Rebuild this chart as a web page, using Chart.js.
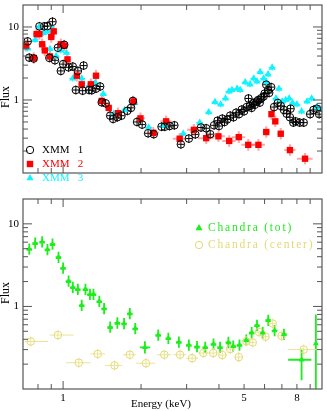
<!DOCTYPE html>
<html>
<head>
<meta charset="utf-8">
<script src="https://cdn.jsdelivr.net/npm/chart.js@4"></script>
<style>
html, body { margin: 0; padding: 0; background: #fff; }
#wrap { position: relative; width: 327px; height: 411px; overflow: hidden; }
canvas { position: absolute; left: 0; }
#top { top: 0; }
#bot { top: 194px; }
</style>
</head>
<body>
<div id="wrap">
  <canvas id="top" width="327" height="196"></canvas>
  <canvas id="bot" width="327" height="217"></canvas>
</div>
<script>
// axes
var eMin = 0.71, eMax = 10;
var fMin = 0.1, fMax = 20;
var eTicks = [0.8, 0.9, 1, 2, 3, 4, 5, 6, 7, 8, 9];
var eLabels = [1, 5, 8];
var fTicks = [0.2, 0.3, 0.4, 0.5, 0.6, 0.7, 0.8, 0.9, 1, 2, 3, 4, 5, 6, 7, 8, 9, 10];
var fLabels = [1, 10];

// XMM 1 (open circles)
var xmm1E = [0.73, 0.74, 0.77, 0.81, 0.845, 0.87, 0.885, 0.91, 0.93, 0.955, 0.98, 1.0, 1.01, 1.05, 1.09, 1.14, 1.2,
  1.12, 1.19, 1.26, 1.29, 1.34, 1.39, 1.41, 1.46, 1.52, 1.56, 1.62, 1.68, 1.77, 1.83, 1.86, 1.93, 2.02, 2.13, 2.24,
  2.40, 2.47, 2.58, 2.69, 2.85, 3.06, 3.24, 3.41, 3.57, 3.70, 3.83, 3.95, 4.0, 4.12, 4.2, 4.3, 4.42, 4.55, 4.66,
  4.78, 4.9, 5.0, 5.12, 5.2, 5.27, 5.35, 5.42, 5.5, 5.6, 5.67, 5.75, 5.83, 5.95, 6.0, 6.09, 6.19, 6.25, 6.36,
  6.53, 6.75, 6.93, 7.13, 7.3, 7.52, 7.56, 7.75, 7.9, 8.2, 8.5, 9.0, 9.27, 9.55, 9.75];
var xmm1F = [6.35, 3.8, 3.7, 10.2, 10.2, 10.3, 3.77, 11.8, 3.5, 5.2, 2.5, 3.1, 5.7, 2.8, 2.87, 2.5, 2.96,
  1.37, 1.34, 1.37, 1.36, 1.43, 1.53, 0.93, 0.9, 0.61, 0.55, 0.58, 0.61, 0.71, 0.78, 0.97, 0.5, 0.46, 0.35, 0.34,
  0.43, 0.43, 0.44, 0.45, 0.247, 0.296, 0.338, 0.42, 0.41, 0.34, 0.45, 0.52, 0.44, 0.555, 0.5, 0.54, 0.61, 0.58, 0.67,
  0.64, 0.74, 0.7, 0.8, 1.05, 0.83, 0.78, 0.91, 0.86, 0.95, 1.0, 0.92, 1.06, 1.12, 1.22, 1.62, 1.37, 1.25, 1.5,
  0.8, 0.91, 0.83, 0.73, 0.65, 0.58, 0.76, 0.49, 0.51, 0.49, 0.49, 0.64, 0.73, 0.76, 0.64];

// XMM 2 (filled squares)
var xmm2E = [0.72, 0.77, 0.79, 0.81, 0.83, 0.85, 0.89, 0.90, 0.92, 0.98, 1.01, 1.04, 1.13, 1.18, 1.28, 1.34, 1.41,
  1.50, 1.63, 1.87, 1.99, 2.23, 2.50, 2.82, 3.20, 3.57, 3.98, 4.38, 4.77, 5.19, 5.68, 6.09, 6.38, 6.6, 6.93, 7.52, 8.6];
var xmm2F = [5.55, 3.77, 8.0, 8.0, 5.8, 4.77, 3.95, 7.3, 8.7, 5.8, 5.55, 3.6, 2.15, 1.64, 1.64, 2.15, 0.97,
  0.78, 0.66, 0.955, 0.56, 0.355, 0.51, 0.295, 0.39, 0.30, 0.318, 0.275, 0.31, 0.243, 0.243, 0.364, 0.64, 0.51, 0.345, 0.206, 0.157];
var xmm2dE = [0.03, 0.03, 0.03, 0.03, 0.03, 0.03, 0.03, 0.03, 0.03, 0.03, 0.03, 0.03, 0.03, 0.03, 0.03, 0.03, 0.03,
  0.03, 0.03, 0.03, 0.04, 0.05, 0.05, 0.06, 0.06, 0.07, 0.06, 0.06, 0.06, 0.06, 0.06, 0.03, 0.02, 0.02, 0.03, 0.05, 0.07];

// XMM 3 (filled triangles)
var xmm3E = [0.73, 0.78, 0.81, 0.84, 0.87, 0.89, 0.91, 0.94, 0.98, 1.03, 1.09, 1.18, 1.26, 1.33, 1.43, 1.57, 1.73,
  1.89, 2.14, 2.43, 2.48, 2.91, 3.37, 3.65, 3.86, 4.06, 4.24, 4.37, 4.49, 4.70, 4.83, 5.05, 5.27, 5.45, 5.61, 5.77,
  5.95, 6.19, 6.1, 6.42, 6.64, 6.82, 7.02, 7.24, 7.47, 7.70, 8.0, 8.34, 8.76, 9.12, 9.55, 9.8];
var xmm3F = [5.08, 6.65, 10, 8.3, 8.7, 5.0, 9.5, 4.0, 4.77, 4.44, 1.97, 1.97, 1.57, 1.72, 1.21, 0.65, 0.73,
  0.91, 0.42, 0.45, 0.46, 0.345, 0.49, 0.68, 0.94, 0.87, 1.05, 1.31, 1.37, 1.43, 1.37, 1.75, 1.64, 1.97, 1.80, 2.42,
  1.97, 2.25, 1.75, 2.78, 1.05, 1.43, 0.955, 1.0, 1.05, 0.91, 0.87, 0.70, 0.955, 1.05, 0.80, 0.76];

// Chandra total (filled triangles)
var chTotE = [0.74, 0.78, 0.83, 0.87, 0.91, 0.96, 1.0, 1.05, 1.09, 1.14, 1.18, 1.22, 1.27, 1.31, 1.38, 1.44, 1.52,
  1.62, 1.72, 1.81, 1.90, 2.07, 2.33, 2.55, 2.80, 3.06, 3.29, 3.54, 3.81, 4.04, 4.35, 4.54, 4.8, 5.1, 5.35, 5.61,
  5.9, 6.2, 6.56, 7.13, 8.34, 9.47];
var chTotF = [4.94, 5.83, 6.05, 4.87, 5.67, 3.94, 2.91, 2.02, 1.70, 1.61, 1.03, 1.61, 1.40, 1.40, 1.15, 0.94, 0.56,
  0.63, 0.62, 0.82, 0.54, 0.32, 0.45, 0.41, 0.37, 0.34, 0.325, 0.32, 0.35, 0.32, 0.366, 0.33, 0.34, 0.39, 0.48, 0.59,
  0.48, 0.68, 0.51, 0.46, 0.226, 0.355];
// wider error boxes of a few bins: [Elo, Ehi, Flo, Fhi]
var chTotWide = { 21: [1.98, 2.17, 0.27, 0.38], 40: [7.4, 9.1, 0.128, 0.308], 41: [9.35, 9.6, 0.05, 0.8] };

// Chandra center (open circles)
var chCenE = [0.75, 0.955, 1.15, 1.36, 1.58, 1.81, 2.09, 2.46, 2.83, 3.15, 3.48, 3.8, 4.12, 4.42, 4.77, 5.1, 5.4,
  5.71, 6.05, 6.45, 6.98, 8.5];
var chCenF = [0.376, 0.45, 0.208, 0.266, 0.193, 0.26, 0.205, 0.26, 0.26, 0.236, 0.273, 0.273, 0.258, 0.305, 0.243,
  0.38, 0.366, 0.49, 0.43, 0.62, 0.44, 0.30];
var chCenElo = [0.71, 0.888, 1.026, 1.275, 1.453, 1.70, 1.91, 2.30, 2.67, 2.99, 3.32, 3.64, 3.97, 4.28, 4.58, 4.95,
  5.24, 5.54, 5.88, 6.27, 6.75, 7.37];
var chCenEhi = [0.875, 1.10, 1.275, 1.453, 1.694, 1.91, 2.27, 2.62, 2.99, 3.32, 3.64, 3.97, 4.28, 4.58, 4.95, 5.24,
  5.54, 5.88, 6.23, 6.64, 7.2, 9.5];

var serif = "'Liberation Serif', 'DejaVu Serif', serif";
Chart.defaults.font.family = serif;
Chart.defaults.color = '#000';

function pts(E, F) {
  return E.map(function(e, i) { return { x: e, y: F[i] }; });
}
function fracErrs(E, F, dE, dF) {
  return E.map(function(e, i) {
    var de = Array.isArray(dE) ? dE[i] : dE;
    return [e * (1 - de), e * (1 + de), F[i] / dF, F[i] * dF];
  });
}

var errorBars = {
  id: 'errorBars',
  beforeDatasetsDraw: function(chart) {
    var ctx = chart.ctx, a = chart.chartArea, x = chart.scales.x, y = chart.scales.y;
    ctx.save();
    ctx.beginPath();
    ctx.rect(a.left, a.top, a.right - a.left, a.bottom - a.top);
    ctx.clip();
    chart.data.datasets.forEach(function(ds) {
      ctx.strokeStyle = ds.errColor;
      ctx.lineWidth = ds.errWidth;
      ds.errs.forEach(function(r, i) {
        var px = x.getPixelForValue(ds.data[i].x), py = y.getPixelForValue(ds.data[i].y);
        ctx.beginPath();
        ctx.moveTo(x.getPixelForValue(r[0]), py);
        ctx.lineTo(x.getPixelForValue(r[1]), py);
        ctx.moveTo(px, y.getPixelForValue(r[2]));
        ctx.lineTo(px, y.getPixelForValue(r[3]));
        ctx.stroke();
      });
    });
    ctx.restore();
  }
};

var frame = {
  id: 'frame',
  afterDraw: function(chart) {
    var ctx = chart.ctx, a = chart.chartArea, x = chart.scales.x, y = chart.scales.y;
    ctx.save();
    ctx.strokeStyle = '#555';
    ctx.lineWidth = 1.2;
    ctx.strokeRect(a.left, a.top, a.right - a.left, a.bottom - a.top);
    ctx.lineWidth = 1;
    ctx.beginPath();
    eTicks.forEach(function(v) {
      var p = x.getPixelForValue(v), L = v === 1 ? 8 : 5;
      ctx.moveTo(p, a.bottom); ctx.lineTo(p, a.bottom - L);
      ctx.moveTo(p, a.top); ctx.lineTo(p, a.top + L);
    });
    fTicks.forEach(function(v) {
      var p = y.getPixelForValue(v), L = (v === 1 || v === 10) ? 9 : 5;
      ctx.moveTo(a.left, p); ctx.lineTo(a.left + L, p);
      ctx.moveTo(a.right, p); ctx.lineTo(a.right - L, p);
    });
    ctx.stroke();
    ctx.restore();
  }
};

function marker(ctx, style, cx, cy, color) {
  ctx.save();
  ctx.fillStyle = color;
  ctx.strokeStyle = color;
  ctx.lineWidth = 1;
  ctx.beginPath();
  if (style === 'circle') {
    ctx.arc(cx, cy, 3.7, 0, Math.PI * 2);
    ctx.stroke();
  } else if (style === 'rect') {
    ctx.fillRect(cx - 3.2, cy - 3.2, 6.4, 6.4);
  } else {
    ctx.moveTo(cx, cy - 4); ctx.lineTo(cx + 3.6, cy + 2.2); ctx.lineTo(cx - 3.6, cy + 2.2);
    ctx.closePath(); ctx.fill();
  }
  ctx.restore();
}

function yTitle(ctx, cy) {
  ctx.save();
  ctx.translate(6, cy);
  ctx.rotate(-Math.PI / 2);
  ctx.font = '12px ' + serif;
  ctx.fillStyle = '#000';
  ctx.textAlign = 'center';
  ctx.textBaseline = 'middle';
  ctx.fillText('Flux', 0, 0);
  ctx.restore();
}

function scalesFor(showX) {
  return {
    x: {
      type: 'logarithmic', min: eMin, max: eMax, display: showX,
      grid: { display: false, drawTicks: false }, border: { display: false },
      afterBuildTicks: function(s) { s.ticks = eTicks.map(function(v) { return { value: v }; }); },
      afterFit: function(s) { s.height = 22; s.paddingLeft = 0; s.paddingRight = 0; },
      ticks: {
        autoSkip: false, maxRotation: 0, padding: 3, font: { size: 11 }, color: '#000',
        callback: function(v) { return eLabels.indexOf(v) >= 0 ? String(v) : ''; }
      }
    },
    y: {
      type: 'logarithmic', min: fMin, max: fMax,
      grid: { display: false, drawTicks: false }, border: { display: false },
      afterBuildTicks: function(s) { s.ticks = fTicks.map(function(v) { return { value: v }; }); },
      afterFit: function(s) { s.width = 23; s.paddingTop = 0; s.paddingBottom = 0; },
      ticks: {
        autoSkip: false, padding: 4, font: { size: 11 }, color: '#000',
        callback: function(v) { return fLabels.indexOf(v) >= 0 ? String(v) : ''; }
      }
    }
  };
}

function baseOptions(showX, pad) {
  return {
    responsive: false,
    animation: false,
    layout: { padding: pad },
    plugins: { legend: { display: false }, tooltip: { enabled: false } },
    scales: scalesFor(showX)
  };
}

new Chart(document.getElementById('top'), {
  type: 'scatter',
  data: {
    datasets: [
      {
        label: 'XMM 1', data: pts(xmm1E, xmm1F), pointStyle: 'circle', pointRadius: 3.8,
        backgroundColor: 'rgba(0,0,0,0)', borderColor: '#000', borderWidth: 1,
        errs: fracErrs(xmm1E, xmm1F, 0.03, 1.15), errColor: '#000', errWidth: 1
      },
      {
        label: 'XMM 2', data: pts(xmm2E, xmm2F), pointStyle: 'rect', pointRadius: 4.5,
        backgroundColor: '#ff0000', borderColor: '#ff0000', borderWidth: 0,
        errs: fracErrs(xmm2E, xmm2F, xmm2dE, 1.2), errColor: 'rgba(255,60,60,0.45)', errWidth: 2
      },
      {
        label: 'XMM 3', data: pts(xmm3E, xmm3F), pointStyle: 'triangle', pointRadius: 4.2,
        backgroundColor: '#12f2ff', borderColor: '#12f2ff', borderWidth: 0,
        errs: fracErrs(xmm3E, xmm3F, 0.03, 1.1), errColor: '#12f2ff', errWidth: 1
      }
    ]
  },
  options: baseOptions(false, { top: 1, bottom: 1, left: 0, right: 1 }),
  plugins: [errorBars, frame, {
    id: 'extrasTop',
    afterDraw: function(chart) {
      var ctx = chart.ctx;
      yTitle(ctx, 97);
      ctx.save();
      ctx.font = '11px ' + serif;
      ctx.textBaseline = 'middle';
      var rows = [['circle', '#000', 'XMM   1', 150], ['rect', '#ff0000', 'XMM   2', 164], ['triangle', '#12f2ff', 'XMM   3', 178]];
      rows.forEach(function(r) {
        marker(ctx, r[0], 30, r[3], r[1]);
        ctx.fillStyle = r[1];
        ctx.fillText(r[2], 42, r[3]);
      });
      ctx.restore();
    }
  }]
});

var totErrs = fracErrs(chTotE, chTotF, 0.025, 1.17).map(function(r, i) { return chTotWide[i] || r; });
var cenErrs = chCenE.map(function(e, i) { return [chCenElo[i], chCenEhi[i], chCenF[i] / 1.15, chCenF[i] * 1.15]; });

new Chart(document.getElementById('bot'), {
  type: 'scatter',
  data: {
    datasets: [
      {
        label: 'Chandra (tot)', data: pts(chTotE, chTotF), pointStyle: 'triangle', pointRadius: 3.4,
        backgroundColor: '#1cee1c', borderColor: '#1cee1c', borderWidth: 0,
        errs: totErrs, errColor: '#1cee1c', errWidth: 1.8
      },
      {
        label: 'Chandra (center)', data: pts(chCenE, chCenF), pointStyle: 'circle', pointRadius: 3.8,
        backgroundColor: 'rgba(0,0,0,0)', borderColor: '#e2da74', borderWidth: 1,
        errs: cenErrs, errColor: '#ebe496', errWidth: 1
      }
    ]
  },
  options: baseOptions(true, { top: 1, bottom: 0, left: 0, right: 1 }),
  plugins: [errorBars, frame, {
    id: 'extrasBot',
    afterDraw: function(chart) {
      var ctx = chart.ctx;
      yTitle(ctx, 99);
      ctx.save();
      ctx.font = '11px ' + serif;
      ctx.fillStyle = '#000';
      ctx.textAlign = 'center';
      ctx.textBaseline = 'middle';
      ctx.fillText('Energy (keV)', 161, 210);
      ctx.textAlign = 'left';
      ctx.font = '11.5px ' + serif;
      ctx.letterSpacing = '1.8px';
      marker(ctx, 'triangle', 199, 34, '#1cee1c');
      ctx.fillStyle = '#1cee1c';
      ctx.fillText('Chandra (tot)', 208, 34);
      marker(ctx, 'circle', 199, 51, '#e2da74');
      ctx.fillStyle = '#e2da74';
      ctx.fillText('Chandra (center)', 208, 51);
      ctx.restore();
    }
  }]
});
</script>
</body>
</html>
